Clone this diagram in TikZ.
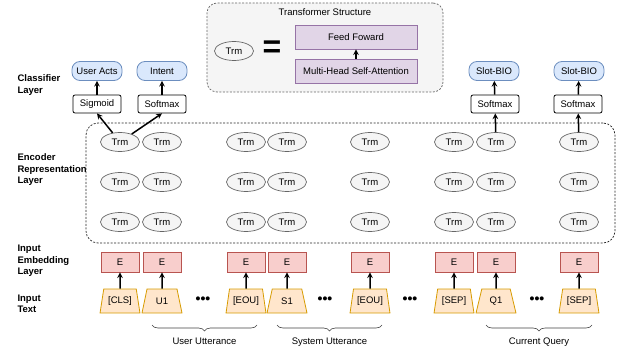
\documentclass[tikz,border=0pt]{standalone}
\usepackage{fontspec}
\setmainfont{Liberation Sans}
\usetikzlibrary{positioning,shapes.geometric,decorations.pathreplacing}

\definecolor{bluefill}{HTML}{DAE8FC}
\definecolor{blueline}{HTML}{6C8EBF}
\definecolor{redfill}{HTML}{F8CECC}
\definecolor{redline}{HTML}{B85450}
\definecolor{orangefill}{HTML}{FFE6CC}
\definecolor{orangeline}{HTML}{D79B00}
\definecolor{greyfill}{HTML}{F5F5F5}
\definecolor{greyline}{HTML}{666666}
\definecolor{purplefill}{HTML}{E1D5E7}
\definecolor{purpleline}{HTML}{9673A6}

\begin{document}
\begin{tikzpicture}[
    x=1pt, y=-1pt,
    node distance=40pt,
    font=\fontsize{9.5}{11.5}\selectfont,
    output/.style={rectangle, draw=blueline, line width=0.8pt, fill=bluefill, rounded corners=8pt, minimum width=50pt, minimum height=19pt, inner sep=1pt},
    classbox/.style={rectangle, draw, line width=0.8pt, fill=white, rounded corners=2pt, minimum width=48pt, minimum height=18pt, inner sep=1pt},
    trm/.style={ellipse, draw=greyline, line width=0.7pt, fill=greyfill, minimum width=39pt, minimum height=19pt, inner sep=0pt},
    embed/.style={rectangle, draw=redline, line width=0.8pt, fill=redfill, minimum width=38pt, minimum height=20pt, inner sep=0pt},
    token/.style={trapezium, draw=orangeline, line width=0.8pt, fill=orangefill, trapezium stretches=true, trapezium left angle=73, trapezium right angle=73, minimum width=40pt, minimum height=24pt, inner sep=0pt},
    sublayer/.style={rectangle, draw=purpleline, line width=0.8pt, fill=purplefill, minimum width=122pt, minimum height=24pt},
    layerlabel/.style={align=left, anchor=west, font=\fontsize{9.5}{11.5}\selectfont\bfseries},
    dots/.style={font=\fontsize{14}{14}\selectfont\bfseries},
    arrow/.style={line width=1.5pt,->,>=stealth},
    bracelabel/.style={decorate, decoration={brace, mirror, amplitude=6pt}, draw=black!75, line width=0.6pt}
]
    \useasboundingbox (0,0) rectangle (621,358);

    % Transformer structure
    \node [rectangle, draw=greyline, line width=0.7pt, dash pattern=on 2pt off 1.5pt, fill=greyfill, rounded corners=10pt, minimum width=236pt, minimum height=89pt] (tbox) at (325,47.5) {};
    \node (ttitle) at (325,12) {Transformer Structure};
    \node [trm] (ttrm) at (234,51) {Trm};
    \node [font=\fontsize{32}{32}\selectfont\bfseries] (teq) at (272,49) {=};
    \node [sublayer] (ffn) at (356,37) {Feed Foward};
    \node [sublayer] (mhsa) at (356,71.5) {Multi-Head Self-Attention};
    \draw [arrow] (mhsa) -- (ffn);

    % Layer labels
    \node [layerlabel] (lclass) at (14,85) {Classifier\\Layer};
    \node [layerlabel] (lenc) at (14,170) {Encoder\\Representation\\Layer};
    \node [layerlabel] (lemb) at (14,261) {Input\\Embedding\\Layer};
    \node [layerlabel] (ltext) at (14,304) {Input\\Text};

    % Encoder frame
    \node [rectangle, draw=black!85, line width=0.7pt, dash pattern=on 2pt off 1.5pt, rounded corners=12pt, minimum width=529pt, minimum height=120pt] (encbox) at (350.5,183) {};

    % Input text
    \node [token] (cls) at (120,301) {[CLS]};
    \node [token] (u1) at (162,301) {U1};
    \node [token] (eou1) at (246,301) {[EOU]};
    \node [token] (s1) at (287,301) {S1};
    \node [token] (eou2) at (370,301) {[EOU]};
    \node [token] (sep1) at (454,301) {[SEP]};
    \node [token] (q1) at (496,301) {Q1};
    \node [token] (sep2) at (579,301) {[SEP]};

    \node [dots] (d1) at (203,300) {•••};
    \node [dots] (d2) at (325,300) {•••};
    \node [dots] (d3) at (410,300) {•••};
    \node [dots] (d4) at (537,300) {•••};

    % Embeddings
    \node [embed, above of=cls, yshift=-1pt] (ecls) {E};
    \node [embed, above of=u1, yshift=-1pt] (eu1) {E};
    \node [embed, above of=eou1, yshift=-1pt] (eeou1) {E};
    \node [embed, above of=s1, yshift=-1pt] (es1) {E};
    \node [embed, above of=eou2, yshift=-1pt] (eeou2) {E};
    \node [embed, above of=sep1, yshift=-1pt] (esep1) {E};
    \node [embed, above of=q1, yshift=-1pt] (eq1) {E};
    \node [embed, above of=sep2, yshift=-1pt] (esep2) {E};

    % Encoder rows
    \node [trm, above of=ecls] (t1c) {Trm};
    \node [trm, above of=eu1] (t2c) {Trm};
    \node [trm, above of=eeou1] (t3c) {Trm};
    \node [trm, above of=es1] (t4c) {Trm};
    \node [trm, above of=eeou2] (t5c) {Trm};
    \node [trm, above of=esep1] (t6c) {Trm};
    \node [trm, above of=eq1] (t7c) {Trm};
    \node [trm, above of=esep2] (t8c) {Trm};

    \node [trm, above of=t1c] (t1b) {Trm};
    \node [trm, above of=t2c] (t2b) {Trm};
    \node [trm, above of=t3c] (t3b) {Trm};
    \node [trm, above of=t4c] (t4b) {Trm};
    \node [trm, above of=t5c] (t5b) {Trm};
    \node [trm, above of=t6c] (t6b) {Trm};
    \node [trm, above of=t7c] (t7b) {Trm};
    \node [trm, above of=t8c] (t8b) {Trm};

    \node [trm, above of=t1b] (t1a) {Trm};
    \node [trm, above of=t2b] (t2a) {Trm};
    \node [trm, above of=t3b] (t3a) {Trm};
    \node [trm, above of=t4b] (t4a) {Trm};
    \node [trm, above of=t5b] (t5a) {Trm};
    \node [trm, above of=t6b] (t6a) {Trm};
    \node [trm, above of=t7b] (t7a) {Trm};
    \node [trm, above of=t8b] (t8a) {Trm};

    % Classifiers
    \node [classbox] (sigmoid) at (97,104) {Sigmoid};
    \node [classbox] (softmax1) at (162,104) {Softmax};
    \node [classbox] (softmax2) at (495,104) {Softmax};
    \node [classbox] (softmax3) at (578,104) {Softmax};

    \node [output] (acts) at (97,71) {User Acts};
    \node [output] (intent) at (162,71) {Intent};
    \node [output] (slot1) at (494,71) {Slot-BIO};
    \node [output] (slot2) at (579,71) {Slot-BIO};

    % Arrows
    \draw [arrow] (cls) -- (ecls);
    \draw [arrow] (u1) -- (eu1);
    \draw [arrow] (eou1) -- (eeou1);
    \draw [arrow] (s1) -- (es1);
    \draw [arrow] (eou2) -- (eeou2);
    \draw [arrow] (sep1) -- (esep1);
    \draw [arrow] (q1) -- (eq1);
    \draw [arrow] (sep2) -- (esep2);

    \draw [arrow] (t1a) -- (sigmoid.south);
    \draw [arrow] (t1a) -- (softmax1.south);
    \draw [arrow] (t7a) -- (softmax2);
    \draw [arrow] (t8a) -- (softmax3);

    \draw [arrow] (sigmoid) -- (acts);
    \draw [arrow] (softmax1) -- (intent);
    \draw [arrow] (softmax2) -- (slot1);
    \draw [arrow] (softmax3) -- (slot2);

    % Segment braces
    \draw [bracelabel] (152,325) -- (257,325) node [midway, below=9pt] (buser) {User Utterance};
    \draw [bracelabel] (277,325) -- (382,325) node [midway, below=9pt] (bsys) {System Utterance};
    \draw [bracelabel] (486,325) -- (592,325) node [midway, below=9pt] (bquery) {Current Query};
\end{tikzpicture}
\end{document}
